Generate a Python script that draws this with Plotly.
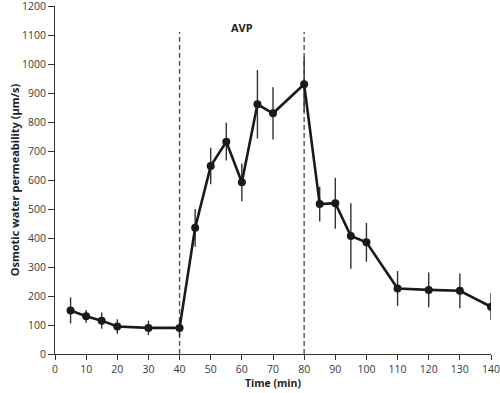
import plotly.graph_objects as go

time_min = [5, 10, 15, 20, 30, 40, 45, 50, 55, 60, 65, 70, 80, 85, 90, 95, 100, 110, 120, 130, 140]
permeability = [150, 130, 115, 95, 90, 90, 435, 648, 732, 592, 861, 830, 930, 517, 520, 407, 385, 226, 221, 218, 163]
error = [45, 22, 28, 25, 25, 30, 65, 63, 65, 65, 118, 90, 95, 60, 88, 113, 67, 60, 60, 60, 47]
avp_start, avp_end = 40, 80
x_ticks = list(range(0, 141, 10))
y_ticks = list(range(0, 1201, 100))

font_family = "Open Sans, Lato, sans-serif"

fig = go.Figure()
for xv in (avp_start, avp_end):
    fig.add_trace(go.Scatter(x=[xv, xv], y=[0, 1110], mode="lines",
                             line=dict(color="#555555", width=1.4, dash="5px,3px"),
                             hoverinfo="skip", showlegend=False))

fig.add_trace(go.Scatter(
    x=time_min, y=permeability, mode="lines+markers",
    line=dict(color="#1a1a1a", width=2.6),
    marker=dict(color="#1a1a1a", size=8),
    error_y=dict(type="data", array=error, visible=True, color="#333333", thickness=1.4, width=0),
    showlegend=False))

fig.add_annotation(x=60, y=1125, text="<b>AVP</b>", showarrow=False,
                   font=dict(family=font_family, size=11, color="#222222"))

fig.update_layout(
    width=500, height=393,
    margin=dict(l=55, r=9, t=6, b=39, autoexpand=False),
    plot_bgcolor="white", paper_bgcolor="white",
    font=dict(family=font_family, size=10.5, color="#3a3a3a"),
    xaxis=dict(range=[0, 140], tickvals=x_ticks, showgrid=False, zeroline=False,
               showline=True, linecolor="#333333", linewidth=1,
               ticks="outside", ticklen=5, tickcolor="#333333", automargin=False,
               ticklabeloverflow="allow",
               title=dict(text="<b>Time (min)</b>", font=dict(size=10.5, color="#222222"), standoff=3)),
    yaxis=dict(range=[0, 1200], tickvals=y_ticks, showgrid=False, zeroline=False,
               showline=True, linecolor="#333333", linewidth=1,
               ticks="outside", ticklen=6, tickcolor="#333333", automargin=False,
               ticklabeloverflow="allow",
               title=dict(text="<b>Osmotic water permeability (µm/s)</b>", font=dict(size=11, color="#222222"), standoff=0)),
)

fig.write_html("out.html", config={"displayModeBar": False},
               post_script="document.body.style.margin='0';document.body.style.padding='0';")
